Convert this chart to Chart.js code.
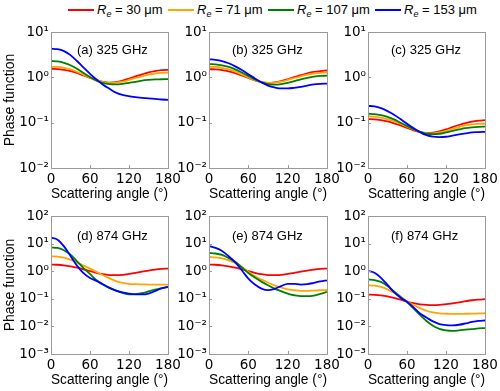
<!DOCTYPE html>
<html><head><meta charset="utf-8">
<script src="https://cdn.jsdelivr.net/npm/chart.js@4"></script>
<style>
body{margin:0;width:500px;height:391px;background:#fff;position:relative;overflow:hidden;font-family:'Liberation Sans',Arial,sans-serif;color:#000}
canvas{position:absolute}
.leg{position:absolute;top:2px;height:16px;line-height:16px;font-size:13px;white-space:nowrap}
.leg .ln{position:absolute;left:0;top:7px;width:26px;height:2px}
.leg .tx{position:absolute;top:0}
.leg sub{font-size:9px;vertical-align:-3px;line-height:0}
</style></head><body>
<script>
// ---------- data ----------
const angles = [0,10,20,30,40,50,60,70,80,90,100,110,120,130,140,150,160,170,180];
const seriesNames = ['Re = 30 μm','Re = 71 μm','Re = 107 μm','Re = 153 μm'];
const seriesColors = ['#ff0000','#ffa500','#008000','#0000ff'];
const panelLabels = ['(a) 325 GHz','(b) 325 GHz','(c) 325 GHz','(d) 874 GHz','(e) 874 GHz','(f) 874 GHz'];
const xTicks = [0,60,120,180];
const yTicksTop = [0.01,0.1,1,10];
const yLabelsTop = ['10⁻²','10⁻¹','10⁰','10¹'];
const yTicksBottom = [0.001,0.01,0.1,1,10,100];
const yLabelsBottom = ['10⁻³','10⁻²','10⁻¹','10⁰','10¹','10²'];

const a30  = [1.55,1.53,1.47,1.38,1.25,1.1,0.98,0.87,0.8,0.77,0.79,0.85,0.94,1.05,1.17,1.29,1.38,1.44,1.47];
const a71  = [1.72,1.7,1.62,1.5,1.33,1.15,1.0,0.87,0.79,0.76,0.77,0.81,0.88,0.97,1.06,1.15,1.22,1.26,1.28];
const a107 = [2.3,2.25,2.1,1.85,1.55,1.25,1.02,0.85,0.75,0.71,0.70,0.72,0.76,0.8,0.85,0.88,0.9,0.91,0.92];
const a153 = [4.3,4.2,3.8,3.1,2.3,1.65,1.2,0.9,0.69,0.56,0.46,0.41,0.385,0.365,0.355,0.345,0.335,0.325,0.32];

const b30  = [1.52,1.5,1.45,1.36,1.24,1.1,0.97,0.86,0.79,0.76,0.78,0.83,0.91,1.01,1.12,1.23,1.32,1.38,1.42];
const b71  = [1.72,1.7,1.63,1.5,1.34,1.16,1.0,0.87,0.79,0.76,0.77,0.81,0.88,0.97,1.06,1.15,1.22,1.26,1.28];
const b107 = [1.97,1.94,1.85,1.7,1.5,1.28,1.08,0.9,0.78,0.71,0.69,0.71,0.76,0.83,0.91,0.98,1.04,1.08,1.09];
const b153 = [2.5,2.45,2.3,2.05,1.75,1.45,1.18,0.95,0.78,0.66,0.6,0.57,0.57,0.59,0.62,0.66,0.7,0.72,0.73];

const c30  = [0.12,0.119,0.114,0.107,0.097,0.087,0.077,0.068,0.062,0.059,0.06,0.064,0.071,0.08,0.089,0.098,0.106,0.111,0.114];
const c71  = [0.138,0.136,0.13,0.12,0.108,0.095,0.082,0.071,0.063,0.059,0.058,0.061,0.066,0.073,0.08,0.087,0.092,0.094,0.095];
const c107 = [0.158,0.155,0.147,0.134,0.118,0.1,0.085,0.072,0.063,0.057,0.056,0.057,0.061,0.066,0.071,0.076,0.079,0.081,0.082];
const c153 = [0.235,0.23,0.21,0.18,0.15,0.12,0.095,0.076,0.062,0.053,0.049,0.048,0.049,0.052,0.055,0.058,0.061,0.062,0.063];

const d30  = [1.75,1.72,1.63,1.5,1.35,1.18,1.02,0.88,0.78,0.73,0.72,0.74,0.8,0.88,0.97,1.06,1.15,1.22,1.25];
const d71  = [3.5,3.4,3.1,2.6,2.1,1.6,1.25,0.95,0.72,0.55,0.44,0.38,0.35,0.34,0.335,0.33,0.33,0.33,0.33];
const d107 = [7.3,7.0,5.8,4.0,2.3,1.3,0.8,0.47,0.34,0.25,0.2,0.165,0.145,0.148,0.16,0.185,0.215,0.245,0.27];
const d153 = [16.5,14,8,3.6,1.6,0.85,0.57,0.45,0.33,0.25,0.2,0.17,0.155,0.146,0.144,0.155,0.19,0.24,0.27];

const e30  = [1.75,1.72,1.63,1.5,1.35,1.18,1.02,0.88,0.78,0.73,0.72,0.74,0.8,0.88,0.97,1.06,1.15,1.22,1.25];
const e71  = [3.3,3.2,2.95,2.5,2.0,1.43,0.97,0.66,0.5,0.39,0.31,0.26,0.22,0.205,0.195,0.195,0.2,0.205,0.21];
const e107 = [4.6,4.4,3.9,3.0,2.2,1.4,0.87,0.59,0.42,0.31,0.236,0.19,0.155,0.135,0.125,0.125,0.132,0.152,0.178];
const e153 = [8.2,7.0,5.4,3.5,2.1,1.09,0.54,0.33,0.236,0.206,0.23,0.29,0.35,0.35,0.33,0.34,0.38,0.43,0.47];

const f30  = [0.143,0.14,0.133,0.122,0.108,0.093,0.08,0.07,0.063,0.06,0.059,0.06,0.064,0.069,0.075,0.082,0.089,0.094,0.097];
const f71  = [0.31,0.3,0.27,0.22,0.165,0.118,0.082,0.06,0.046,0.037,0.032,0.0295,0.0288,0.0286,0.0286,0.0288,0.029,0.0295,0.03];
const f107 = [0.51,0.48,0.41,0.29,0.184,0.118,0.076,0.045,0.026,0.0157,0.0106,0.0082,0.0072,0.0069,0.0072,0.0076,0.008,0.0085,0.0087];
const f153 = [1.03,0.88,0.58,0.32,0.174,0.11,0.078,0.049,0.0295,0.021,0.0152,0.0122,0.0112,0.011,0.0115,0.0128,0.0145,0.0158,0.0164];

// ---------- layout ----------
const panels = [
  {series:[a30,a71,a107,a153], label:panelLabels[0], left:0,   top:22,  yw:51, plotW:117, plotH:136, padR:18, yTitle:true,  yt:yTicksTop,    yl:yLabelsTop,    lx:26, ly:18},
  {series:[b30,b71,b107,b153], label:panelLabels[1], left:160, top:22,  yw:49, plotW:118, plotH:136, padR:18, yTitle:false, yt:yTicksTop,    yl:yLabelsTop,    lx:23, ly:18},
  {series:[c30,c71,c107,c153], label:panelLabels[2], left:320, top:22,  yw:48, plotW:117, plotH:136, padR:16, yTitle:false, yt:yTicksTop,    yl:yLabelsTop,    lx:23, ly:18},
  {series:[d30,d71,d107,d153], label:panelLabels[3], left:0,   top:206, yw:51, plotW:117, plotH:138, padR:18, yTitle:true,  yt:yTicksBottom, yl:yLabelsBottom, lx:26, ly:20},
  {series:[e30,e71,e107,e153], label:panelLabels[4], left:160, top:206, yw:49, plotW:118, plotH:138, padR:18, yTitle:false, yt:yTicksBottom, yl:yLabelsBottom, lx:23, ly:20},
  {series:[f30,f71,f107,f153], label:panelLabels[5], left:320, top:206, yw:48, plotW:117, plotH:138, padR:16, yTitle:false, yt:yTicksBottom, yl:yLabelsBottom, lx:23, ly:20}
];
const xAxisH = 35;

// ---------- legend (HTML text) ----------
const legendX = [68,168,268,375];
const legendVals = ['30','71','107','153'];
legendVals.forEach((v,i)=>{
  const d = document.createElement('div');
  d.className = 'leg';
  d.style.left = legendX[i]+'px';
  d.innerHTML = '<span class="ln" style="background:'+seriesColors[i]+'"></span><span class="tx" style="left:29px"><i>R</i><sub><i>e</i></sub> = '+v+' μm</span>';
  document.body.appendChild(d);
});

const framePlugin = {
  id: 'frame',
  afterDraw(chart, args, opts) {
    const {ctx, chartArea: ca, scales} = chart;
    ctx.save();
    ctx.strokeStyle = '#9a9a9a';
    ctx.lineWidth = 1;
    ctx.strokeRect(Math.round(ca.left)+0.5, Math.round(ca.top)+0.5, Math.round(ca.right-ca.left), Math.round(ca.bottom-ca.top));
    ctx.beginPath();
    scales.x.ticks.forEach(t=>{
      const px = Math.round(scales.x.getPixelForValue(t.value))+0.5;
      ctx.moveTo(px, ca.bottom); ctx.lineTo(px, ca.bottom-3);
    });
    scales.y.ticks.forEach(t=>{
      const py = Math.round(scales.y.getPixelForValue(t.value))+0.5;
      ctx.moveTo(ca.left, py); ctx.lineTo(ca.left+3, py);
    });
    ctx.stroke();
    ctx.fillStyle = '#000';
    ctx.font = '13px "Liberation Sans", Arial, sans-serif';
    ctx.textAlign = 'left';
    ctx.textBaseline = 'middle';
    ctx.fillText(opts.text, ca.left + opts.dx, ca.top + opts.dy);
    ctx.restore();
  }
};

panels.forEach(p=>{
  const cv = document.createElement('canvas');
  const w = p.yw + p.plotW + p.padR;
  const h = 10 + p.plotH + xAxisH;
  cv.width = w; cv.height = h;
  cv.style.left = p.left+'px'; cv.style.top = p.top+'px';
  cv.style.width = w+'px'; cv.style.height = h+'px';
  document.body.appendChild(cv);
  new Chart(cv, {
    type: 'line',
    data: {
      datasets: p.series.map((vals,i)=>({
        label: seriesNames[i],
        data: angles.map((a,j)=>({x:a, y:vals[j]})),
        borderColor: seriesColors[i],
        backgroundColor: seriesColors[i],
        borderWidth: 1.8,
        pointRadius: 0,
        fill: false,
        cubicInterpolationMode: 'monotone',
        order: 4-i
      }))
    },
    options: {
      responsive: false,
      animation: false,
      devicePixelRatio: 1,
      layout: {padding: {top:10, right:p.padR, bottom:0, left:0}},
      plugins: {
        legend: {display:false},
        tooltip: {enabled:false},
        frame: {text:p.label, dx:p.lx, dy:p.ly}
      },
      scales: {
        x: {
          type: 'linear', min: 0, max: 180,
          afterBuildTicks: s => { s.ticks = xTicks.map(v=>({value:v})); },
          ticks: {padding:3, color:'#000', maxRotation:0, autoSkip:false, font:{family:'DejaVu Sans', size:13.5}},
          grid: {display:false, drawTicks:false},
          border: {display:false},
          title: {display:true, text:'Scattering angle (°)', color:'#000', font:{family:'Liberation Sans', size:14}, padding:{top:0,bottom:0}},
          afterFit: s => { s.height = xAxisH; }
        },
        y: {
          type: 'logarithmic', min: p.yt[0], max: p.yt[p.yt.length-1],
          afterBuildTicks: s => { s.ticks = p.yt.map(v=>({value:v})); },
          ticks: {padding:2, color:'#000', autoSkip:false, font:{family:'DejaVu Sans', size:13.5},
                  callback: (v,i) => p.yl[i]},
          grid: {display:false, drawTicks:false},
          border: {display:false},
          title: {display:p.yTitle, text:'Phase function', color:'#000', font:{family:'Liberation Sans', size:14}, padding:{top:2,bottom:0}},
          afterFit: s => { s.width = p.yw; }
        }
      }
    },
    plugins: [framePlugin]
  });
});
</script>
</body></html>
